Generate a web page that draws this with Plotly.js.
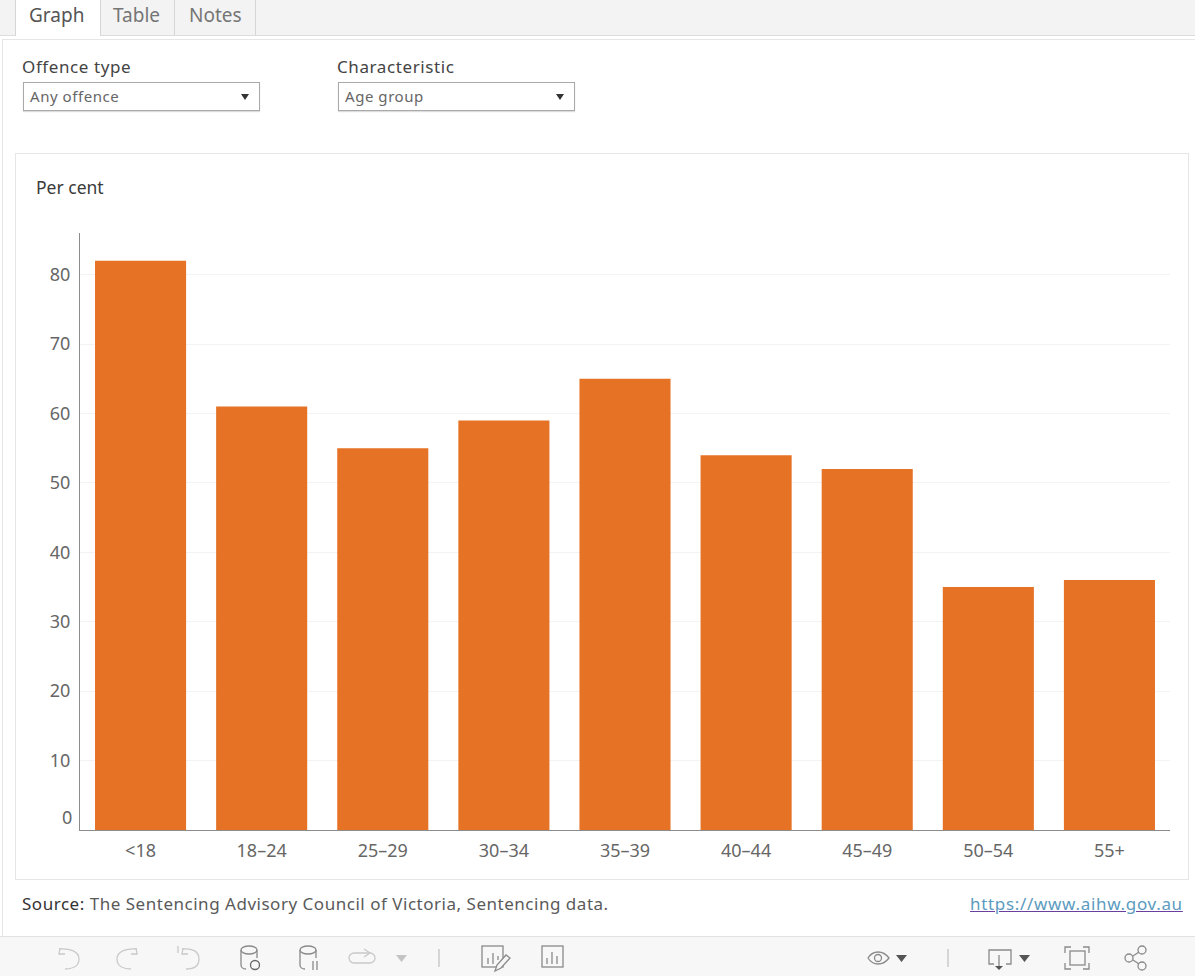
<!DOCTYPE html>
<html><head><meta charset="utf-8">
<script src="https://cdn.plot.ly/plotly-3.0.1.min.js"></script>
<style>
html,body{margin:0;padding:0;background:#fff;width:1195px;height:976px;overflow:hidden;font-family:"Noto Sans",sans-serif}
.a{position:absolute;white-space:nowrap}
#chart{position:absolute;left:0;top:0;width:1195px;height:976px}
.tab{font-size:19px;color:#757575;top:2px}
.lbl{font-size:17px;color:#444;letter-spacing:.6px}
.sel{border:1px solid #a9a9a9;box-shadow:0 1px 1px #ddd;background:#fff;height:27px;width:235px;top:82px;box-sizing:content-box}
.sel span{position:absolute;left:6px;top:3px;font-size:15px;color:#666;letter-spacing:.55px}
.sel i{position:absolute;right:10px;top:11px;width:0;height:0;border-left:4.5px solid transparent;border-right:4.5px solid transparent;border-top:6px solid #333}
</style></head><body>
<div class="a" style="left:0;top:0;width:1195px;height:35px;background:#f3f3f3;border-bottom:1px solid #dcdcdc"></div>
<div class="a" style="left:15px;top:0;width:84px;height:36px;background:#fff;border-left:1px solid #d5d5d5;border-right:1px solid #d5d5d5"></div>
<div class="a" style="left:174px;top:0;width:1px;height:35px;background:#d5d5d5"></div>
<div class="a" style="left:255px;top:0;width:1px;height:35px;background:#d5d5d5"></div>
<div class="a tab" style="left:29px;color:#555">Graph</div>
<div class="a tab" style="left:113px">Table</div>
<div class="a tab" style="left:189px">Notes</div>
<div class="a" style="left:2px;top:39px;width:1193px;height:897px;border-left:1px solid #e6e6e6;border-top:1px solid #e6e6e6;box-sizing:border-box"></div>
<div class="a lbl" style="left:22px;top:55px">Offence type</div>
<div class="a lbl" style="left:337px;top:55px">Characteristic</div>
<div class="a sel" style="left:23px"><span>Any offence</span><i></i></div>
<div class="a sel" style="left:338px"><span>Age group</span><i></i></div>
<div class="a" style="left:15px;top:153px;width:1174px;height:727px;border:1px solid #e6e6e6;box-sizing:border-box"></div>
<div id="chart"></div>
<div class="a" style="left:22px;top:892px;font-size:17px;letter-spacing:.52px;color:#5a5a5a"><span style="color:#333">Source:</span> The Sentencing Advisory Council of Victoria, Sentencing data.</div>
<div class="a" style="left:970px;top:892px;font-size:17px;letter-spacing:.68px;color:#5b9bc0;text-decoration:underline;text-decoration-color:#6a3fa0">https://www.aihw.gov.au</div>
<div class="a" style="left:0;top:936px;width:1195px;height:40px;background:#f7f7f7;border-top:1px solid #e2e2e2;box-sizing:border-box"></div>
<svg class="a" style="left:0;top:936px" width="1195" height="40" viewBox="0 936 1195 40" fill="none" stroke-width="1.3">
 <g stroke="#c9c9c9">
  <path d="M60 948 l-1 6 6 0 M59 949 c10 -1 20 2 20 10 c0 8 -8 10 -14 10"/>
  <path d="M136 948 l1 6 -6 0 M137 949 c-10 -1 -20 2 -20 10 c0 8 8 10 14 10"/>
  <path d="M178 946 v7 M183 948 l-1 6 6 0 M182 949 c10 -1 17 2 17 10 c0 8 -7 10 -13 10"/>
  <rect x="349" y="953" width="26" height="10" rx="5"/><path d="M364 949 l6 4 -6 4" />
 </g>
 <path d="M396 955 h11 l-5.500 7z" fill="#c4c4c4"/>
 <path d="M439 949 v18" stroke="#c4c4c4"/>
 <g stroke="#8a8a8a">
  <ellipse cx="249" cy="950" rx="8" ry="4"/><path d="M241 950 v15 c0 2 2 4 5 4 M257 950 v8"/>
  <circle cx="255" cy="965" r="4.500" stroke="#666"/>
  <ellipse cx="308" cy="950" rx="8" ry="4"/><path d="M300 950 v15 c0 2 2 4 5 4 M316 950 v8 M313 961 v9 M317 961 v9"/>
  <rect x="482" y="946" width="21" height="21"/><path d="M488 958 v6 M493 953 v11 M498 956 v4"/><path d="M495 971 l2 -6 9 -10 4 3 -9 10z" fill="#f7f7f7"/>
  <rect x="542" y="946" width="21" height="21"/><path d="M547 958 v6 M552 952 v12 M557 956 v8"/>
  <path d="M868 958 c5 -8 15 -8 21 0 c-6 8 -16 8 -21 0z"/><circle cx="878" cy="958" r="3.500"/>
  <path d="M948 949 v18" stroke="#c4c4c4"/>
  <path d="M994 964 h-5 v-14 h22 v14 h-5 M999 955 v13"/>
  <path d="M1065 953 v-6 h6 M1083 947 h6 v6 M1089 963 v6 h-6 M1071 969 h-6 v-6"/><rect x="1070" y="951" width="15" height="14"/>
  <circle cx="1129" cy="958" r="4"/><circle cx="1142" cy="950" r="4"/><circle cx="1142" cy="966" r="4"/><path d="M1133 956 l6 -4 M1133 960 l6 4"/>
 </g>
 <path d="M995 966 h8 l-4 4z" fill="#555"/>
 <path d="M896 955 h11 l-5.500 7z M1019 955 h11 l-5.500 7z" fill="#555"/>
</svg>
<script>
var categories=['<18','18–24','25–29','30–34','35–39','40–44','45–49','50–54','55+'];
var percentValues=[82,61,55,59,65,54,52,35,36];
var yTicks=[10,20,30,40,50,60,70,80];
var tickFont={family:'"Noto Sans",sans-serif',size:18,color:'#666'};
Plotly.newPlot('chart',[{type:'bar',x:categories,y:percentValues,width:0.752,
  marker:{color:'#e57225',line:{width:0}},hoverinfo:'x+y'}],
 {width:1195,height:976,margin:{l:80,r:25,t:233,b:146,pad:0},
  paper_bgcolor:'rgba(0,0,0,0)',plot_bgcolor:'rgba(0,0,0,0)',showlegend:false,
  xaxis:{type:'category',tickfont:tickFont,showgrid:false,ticks:'',showline:true,linecolor:'#8c8c8c',linewidth:1,automargin:false,zeroline:false,ticklabelstandoff:4},
  yaxis:{range:[0,86],tickvals:yTicks,ticktext:yTicks.map(String),tickfont:tickFont,showgrid:true,gridcolor:'#f3f3f3',gridwidth:1,
    ticks:'',showline:true,linecolor:'#8c8c8c',linewidth:1,zeroline:false,automargin:false,ticklabelstandoff:5},
  annotations:[
   {xref:'paper',yref:'y',x:0,y:0,xanchor:'right',yanchor:'middle',xshift:-6,yshift:13,text:'0',showarrow:false,font:tickFont},
   {xref:'paper',yref:'paper',x:0,y:1,xanchor:'left',yanchor:'middle',xshift:-46,yshift:46,text:'Per cent',showarrow:false,font:{family:'"Noto Sans",sans-serif',size:17.5,color:'#3a3a3a'}}
  ]},
 {displayModeBar:false});
</script>
</body></html>
